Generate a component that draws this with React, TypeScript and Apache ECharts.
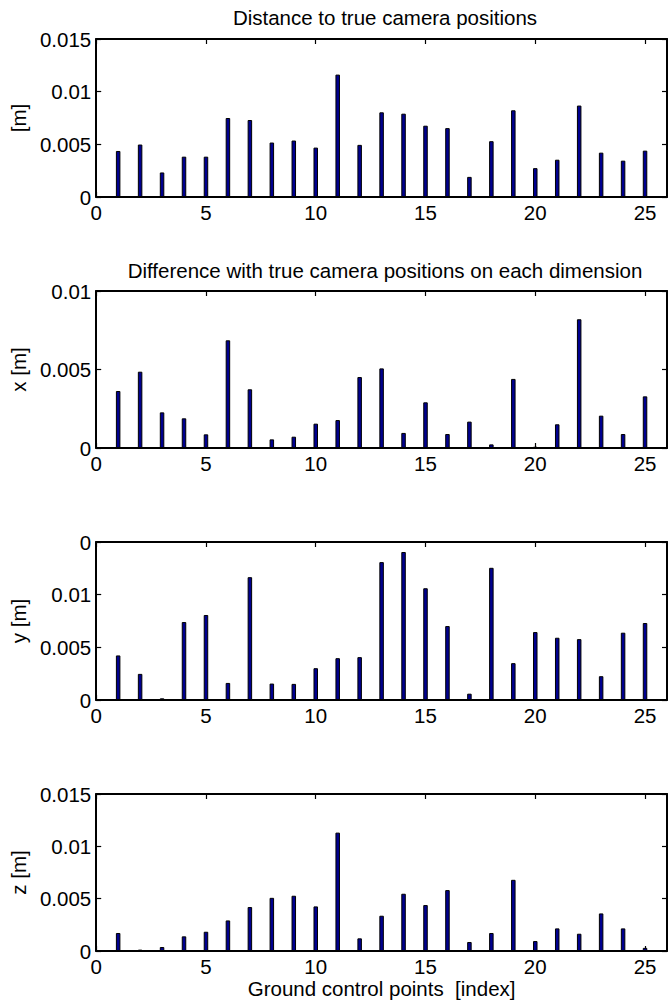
import React, { useEffect, useRef } from "react";
import * as echarts from "echarts";

const gcpIndex = [1, 2, 3, 4, 5, 6, 7, 8, 9, 10, 11, 12, 13, 14, 15, 16, 17, 18, 19, 20, 21, 22, 23, 24, 25];
const distance = [0.00437, 0.00498, 0.00233, 0.00383, 0.00383, 0.0075, 0.00731, 0.00517, 0.00536, 0.00469, 0.01162, 0.00495, 0.00804, 0.00791, 0.00677, 0.00654, 0.00191, 0.0053, 0.00823, 0.00274, 0.00354, 0.00868, 0.00421, 0.00345, 0.0044];
const diffX = [0.00363, 0.00486, 0.00227, 0.00189, 0.00087, 0.00686, 0.00374, 0.00055, 0.00072, 0.00155, 0.00178, 0.00452, 0.00507, 0.00096, 0.00291, 0.00089, 0.00168, 0.00023, 0.0044, 0.00008, 0.00151, 0.0082, 0.00206, 0.00089, 0.00329];
const diffY = [0.00423, 0.00248, 0.00016, 0.0074, 0.00807, 0.00162, 0.01166, 0.00156, 0.00153, 0.00302, 0.00397, 0.00407, 0.01309, 0.01405, 0.01061, 0.00702, 0.0006, 0.01255, 0.0035, 0.00645, 0.00591, 0.00578, 0.00226, 0.00639, 0.00731];
const diffZ = [0.00172, 0.00013, 0.00038, 0.0014, 0.00184, 0.00292, 0.0042, 0.00508, 0.00528, 0.00426, 0.01131, 0.00121, 0.00337, 0.00547, 0.00439, 0.00582, 0.00086, 0.00172, 0.0068, 0.00095, 0.00216, 0.00165, 0.00359, 0.00216, 0.0003];

const yLabels = ["[m]", "x [m]", "y [m]", "z [m]"];
const yMax = [0.015, 0.01, 0.015, 0.015];
const titles = ["Distance to true camera positions", "Difference with true camera positions on each dimension", "", ""];
const xName = "Ground control points  [index]";

const FONT = "'Liberation Sans', Arial, Helvetica, sans-serif";
const FS = 20.5;

export default function App() {
  const ref = useRef<HTMLDivElement>(null);
  useEffect(() => {
    if (!ref.current) return;
    const chart = echarts.init(ref.current, undefined, { renderer: "svg" });
    const seriesData = [distance, diffX, diffY, diffZ];
    const tops = [39, 291, 542, 794];
    const heights = [158, 157, 158, 157];
    const titleTops = [2, 255];
    const left = 93;
    const width = 574;

    const grids: any[] = [];
    const xAxes: any[] = [];
    const yAxes: any[] = [];
    const series: any[] = [];
    const title: any[] = [];
    const lineStyle = { color: "#000", width: 2 };
    const tickStyle = { color: "#000", width: 1.2 };

    for (let i = 0; i < 4; i++) {
      grids.push({ left, width, top: tops[i], height: heights[i], containLabel: false });
      xAxes.push({
        type: "value",
        gridIndex: i,
        position: "bottom",
        min: 0,
        max: 26,
        interval: 5,
        axisLine: { show: true, onZero: false, lineStyle },
        axisTick: { show: true, inside: true, length: 5, lineStyle: tickStyle },
        axisLabel: {
          show: true,
          margin: 5,
          color: "#000",
          fontSize: FS,
          fontFamily: FONT,
          showMaxLabel: false,
          formatter: (v: number) => (v > 25.5 ? "" : String(v)),
        },
        splitLine: { show: false },
        name: i === 3 ? xName : "",
        nameLocation: "middle",
        nameGap: 27,
        nameTextStyle: { color: "#000", fontSize: FS, fontFamily: FONT },
      });
      xAxes.push({
        type: "value",
        gridIndex: i,
        position: "top",
        min: 0,
        max: 26,
        interval: 5,
        axisLine: { show: true, onZero: false, lineStyle },
        axisTick: { show: true, inside: true, length: 5, lineStyle: tickStyle },
        axisLabel: { show: false },
        splitLine: { show: false },
      });
      const ymax = yMax[i];
      yAxes.push({
        type: "value",
        gridIndex: i,
        position: "left",
        min: 0,
        max: ymax,
        interval: 0.005,
        axisLine: { show: true, onZero: false, lineStyle },
        axisTick: { show: true, inside: true, length: 5, lineStyle: tickStyle },
        axisLabel: {
          show: true,
          margin: 5,
          color: "#000",
          fontSize: FS,
          fontFamily: FONT,
          formatter: (v: number) => {
            if (i === 2 && v > 0.0149) return "0";
            return String(parseFloat(v.toFixed(4)));
          },
        },
        splitLine: { show: false },
        name: yLabels[i],
        nameLocation: "middle",
        nameGap: 60,
        nameRotate: 90,
        nameTextStyle: { color: "#000", fontSize: FS, fontFamily: FONT },
      });
      yAxes.push({
        type: "value",
        gridIndex: i,
        position: "right",
        min: 0,
        max: ymax,
        interval: 0.005,
        axisLine: { show: true, onZero: false, lineStyle },
        axisTick: { show: true, inside: true, length: 5, lineStyle: tickStyle },
        axisLabel: { show: false },
        splitLine: { show: false },
      });
      series.push({
        type: "bar",
        xAxisIndex: i * 2,
        yAxisIndex: i * 2,
        barWidth: 4.5,
        itemStyle: { color: "#00008F", borderColor: "#000", borderWidth: 1 },
        data: gcpIndex.map((g, k) => [g, seriesData[i][k]]),
      });
      if (titles[i]) {
        title.push({
          text: titles[i],
          left: 380,
          top: titleTops[i],
          textAlign: "center",
          textStyle: { color: "#000", fontSize: FS, fontWeight: "normal", fontFamily: FONT },
        });
      }
    }

    chart.setOption({
      animation: false,
      backgroundColor: "#fff",
      textStyle: { fontFamily: FONT },
      title,
      grid: grids,
      xAxis: xAxes,
      yAxis: yAxes,
      series,
    });
    return () => chart.dispose();
  }, []);
  return (
    <div
      ref={ref}
      style={{ position: "absolute", left: 0, top: 0, width: 668, height: 1001, background: "#fff" }}
    />
  );
}
